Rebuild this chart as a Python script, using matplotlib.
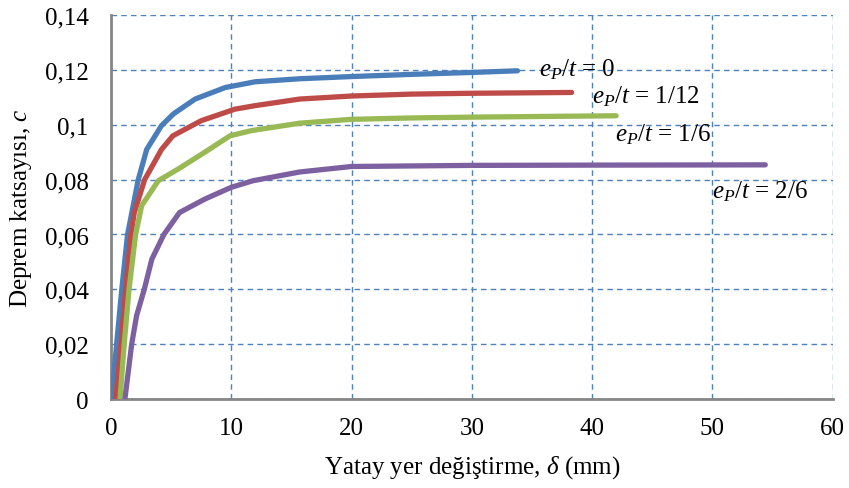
import matplotlib
matplotlib.use("Agg")
import matplotlib.pyplot as plt
from matplotlib.ticker import FuncFormatter

plt.rcParams['font.family'] = ['Liberation Serif', 'DejaVu Serif']
plt.rcParams['mathtext.fontset'] = 'custom'
plt.rcParams['mathtext.rm'] = 'Liberation Serif'
plt.rcParams['mathtext.it'] = 'Liberation Serif:italic'

# data
x_0 = [0.05, 0.47, 0.9, 1.38, 2.27, 2.97, 4.2, 5.2, 7.0, 9.5, 12.0, 15.7, 20, 25, 30, 33.8]
y_0 = [0, 0.02, 0.04, 0.06, 0.080, 0.091, 0.0997, 0.104, 0.1094, 0.1136, 0.1157, 0.1168, 0.1176, 0.1184, 0.1191, 0.1197]
x_112 = [0.4, 0.83, 1.22, 1.66, 1.94, 2.8, 4.2, 5.15, 7.5, 10.3, 12, 15.7, 20, 25, 30, 38.3]
y_112 = [0, 0.02, 0.04, 0.06, 0.068, 0.080, 0.091, 0.096, 0.1015, 0.1057, 0.107, 0.1094, 0.1105, 0.1112, 0.1115, 0.1118]
x_16 = [0.75, 1.1, 1.5, 2.05, 2.55, 3.93, 5.6, 7.8, 9.9, 11.7, 15.7, 20, 25, 30, 42.0]
y_16 = [0, 0.02, 0.04, 0.06, 0.0705, 0.0796, 0.0839, 0.090, 0.096, 0.0979, 0.1006, 0.102, 0.1025, 0.1028, 0.1033]
x_26 = [1.16, 1.72, 2.13, 2.77, 3.4, 4.4, 5.7, 7.8, 10.0, 11.8, 15.7, 20, 30, 40, 54.4]
y_26 = [0, 0.02, 0.0304, 0.040, 0.051, 0.060, 0.068, 0.0729, 0.0772, 0.0796, 0.0828, 0.0848, 0.0852, 0.0853, 0.0854]

labels = [r"$e_P/t$ = 0", r"$e_P/t$ = 1/12", r"$e_P/t$ = 1/6", r"$e_P/t$ = 2/6"]
label_pos = [(35.6, 0.1203), (40.0, 0.1105), (41.9, 0.0966), (50.0, 0.0758)]
colors = ['#4A7EBB', '#BE4B48', '#98B954', '#7D60A0']

fig = plt.figure(figsize=(8.49, 4.89), dpi=100)
ax = fig.add_axes([0.1307, 0.182, 0.850, 0.785])

for (xs, ys), c in zip([(x_0, y_0), (x_112, y_112), (x_16, y_16), (x_26, y_26)], colors):
    ax.plot(xs, ys, color=c, lw=3.8, solid_capstyle='round', solid_joinstyle='round', zorder=3)

for lab, (lx, ly) in zip(labels, label_pos):
    ax.text(lx, ly, lab, fontsize=18, ha='left', va='center', zorder=4)

ax.set_xlim(0, 60)
ax.set_ylim(0, 0.14)
ax.set_xticks(range(0, 61, 10))
ax.set_yticks([0, 0.02, 0.04, 0.06, 0.08, 0.10, 0.12, 0.14])

def yfmt(v, pos):
    if abs(v) < 1e-9:
        return "0"
    s = f"{v:.2f}".rstrip('0')
    return s.replace('.', ',')
ax.yaxis.set_major_formatter(FuncFormatter(yfmt))

ax.grid(True, color='#4F81BD', linestyle=(0, (4, 3)), lw=1.0, zorder=1)
ax.set_axisbelow(True)
for s in ['top', 'right']:
    ax.spines[s].set_visible(False)
for s in ['left', 'bottom']:
    ax.spines[s].set_color('#868686')
    ax.spines[s].set_linewidth(2)
    ax.spines[s].set_zorder(2)

ax.tick_params(axis='y', length=0, labelsize=18, pad=16)
ax.tick_params(axis='x', length=0, labelsize=18, pad=13)
ax.set_xlabel(r"Yatay yer değiştirme, $\delta$ (mm)", fontsize=18, labelpad=10)
ax.set_ylabel(r"Deprem katsayısı, $c$", fontsize=18, labelpad=8)

fig.savefig("out.png", dpi=100)
